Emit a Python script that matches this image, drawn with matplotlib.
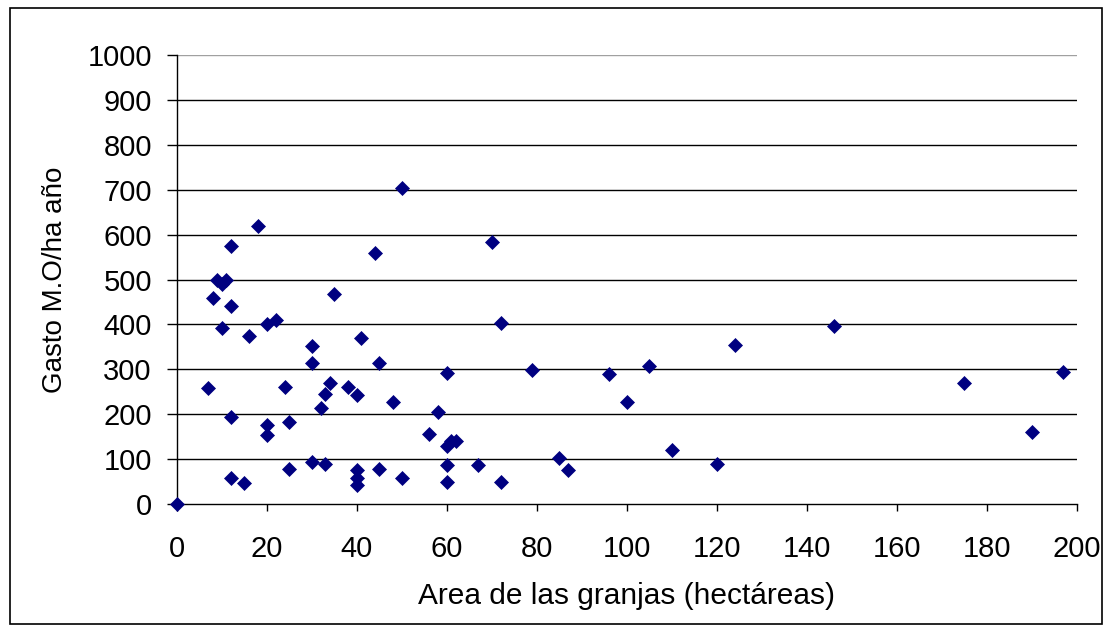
import matplotlib
matplotlib.use("Agg")
import matplotlib.pyplot as plt
from matplotlib.patches import Rectangle

area = [0, 7, 8, 9, 10, 11, 10, 12, 12, 12, 12, 15, 16, 18, 20, 20, 20, 22, 24, 25, 25,
        30, 30, 30, 32, 33, 33, 34, 35, 38, 40, 40, 40, 40, 41, 44, 45, 45, 48, 50, 50,
        56, 58, 60, 60, 60, 60, 61, 62, 67, 70, 72, 72, 79, 85, 87, 96, 100, 105, 110,
        120, 124, 146, 175, 190, 197]
gasto = [0, 258, 459, 499, 491, 499, 391, 574, 441, 194, 58, 47, 374, 619, 401, 176, 154, 410, 261, 182, 79,
         352, 313, 94, 213, 246, 89, 269, 467, 261, 243, 76, 59, 42, 369, 560, 313, 79, 227, 704, 57,
         156, 204, 291, 129, 87, 48, 141, 141, 87, 583, 404, 48, 298, 102, 76, 290, 227, 307, 120,
         89, 354, 397, 269, 160, 294]

xticks = list(range(0, 201, 20))
yticks = list(range(0, 1001, 100))

plt.rcParams['font.family'] = ['Liberation Sans', 'DejaVu Sans']

fig = plt.figure(figsize=(11.12, 6.32), dpi=100)
fig.patches.append(Rectangle((0.009, 0.013), 0.982, 0.974, transform=fig.transFigure,
                             fill=False, edgecolor='black', linewidth=1.2))
ax = fig.add_axes([0.159, 0.2025, 0.8095, 0.7105])

for yv in yticks[1:-1]:
    ax.axhline(yv, color='black', linewidth=1.0, zorder=1)
ax.axhline(1000, color='#a0a0a0', linewidth=1.0, zorder=1)

ax.plot(area, gasto, linestyle='none', marker='D', markersize=7.4,
        markerfacecolor='#000080', markeredgecolor='#000080', markeredgewidth=0.5,
        zorder=3, clip_on=False)

ax.set_xlim(0, 200)
ax.set_ylim(0, 1000)
ax.set_xticks(xticks)
ax.set_yticks(yticks)
for s in ['top', 'right']:
    ax.spines[s].set_visible(False)
for s in ['left', 'bottom']:
    ax.spines[s].set_linewidth(1.0)
    ax.spines[s].set_color('black')
ax.tick_params(axis='both', direction='out', width=1.0, labelsize=21, colors='black')
ax.tick_params(axis='y', length=7, pad=11)
ax.tick_params(axis='x', length=5, pad=17)

ax.set_xlabel('Area de las granjas (hectáreas)', fontsize=21.5, labelpad=14)
ax.set_ylabel('Gasto M.O/ha año', fontsize=20, labelpad=14)

fig.savefig('out.png', dpi=100)
